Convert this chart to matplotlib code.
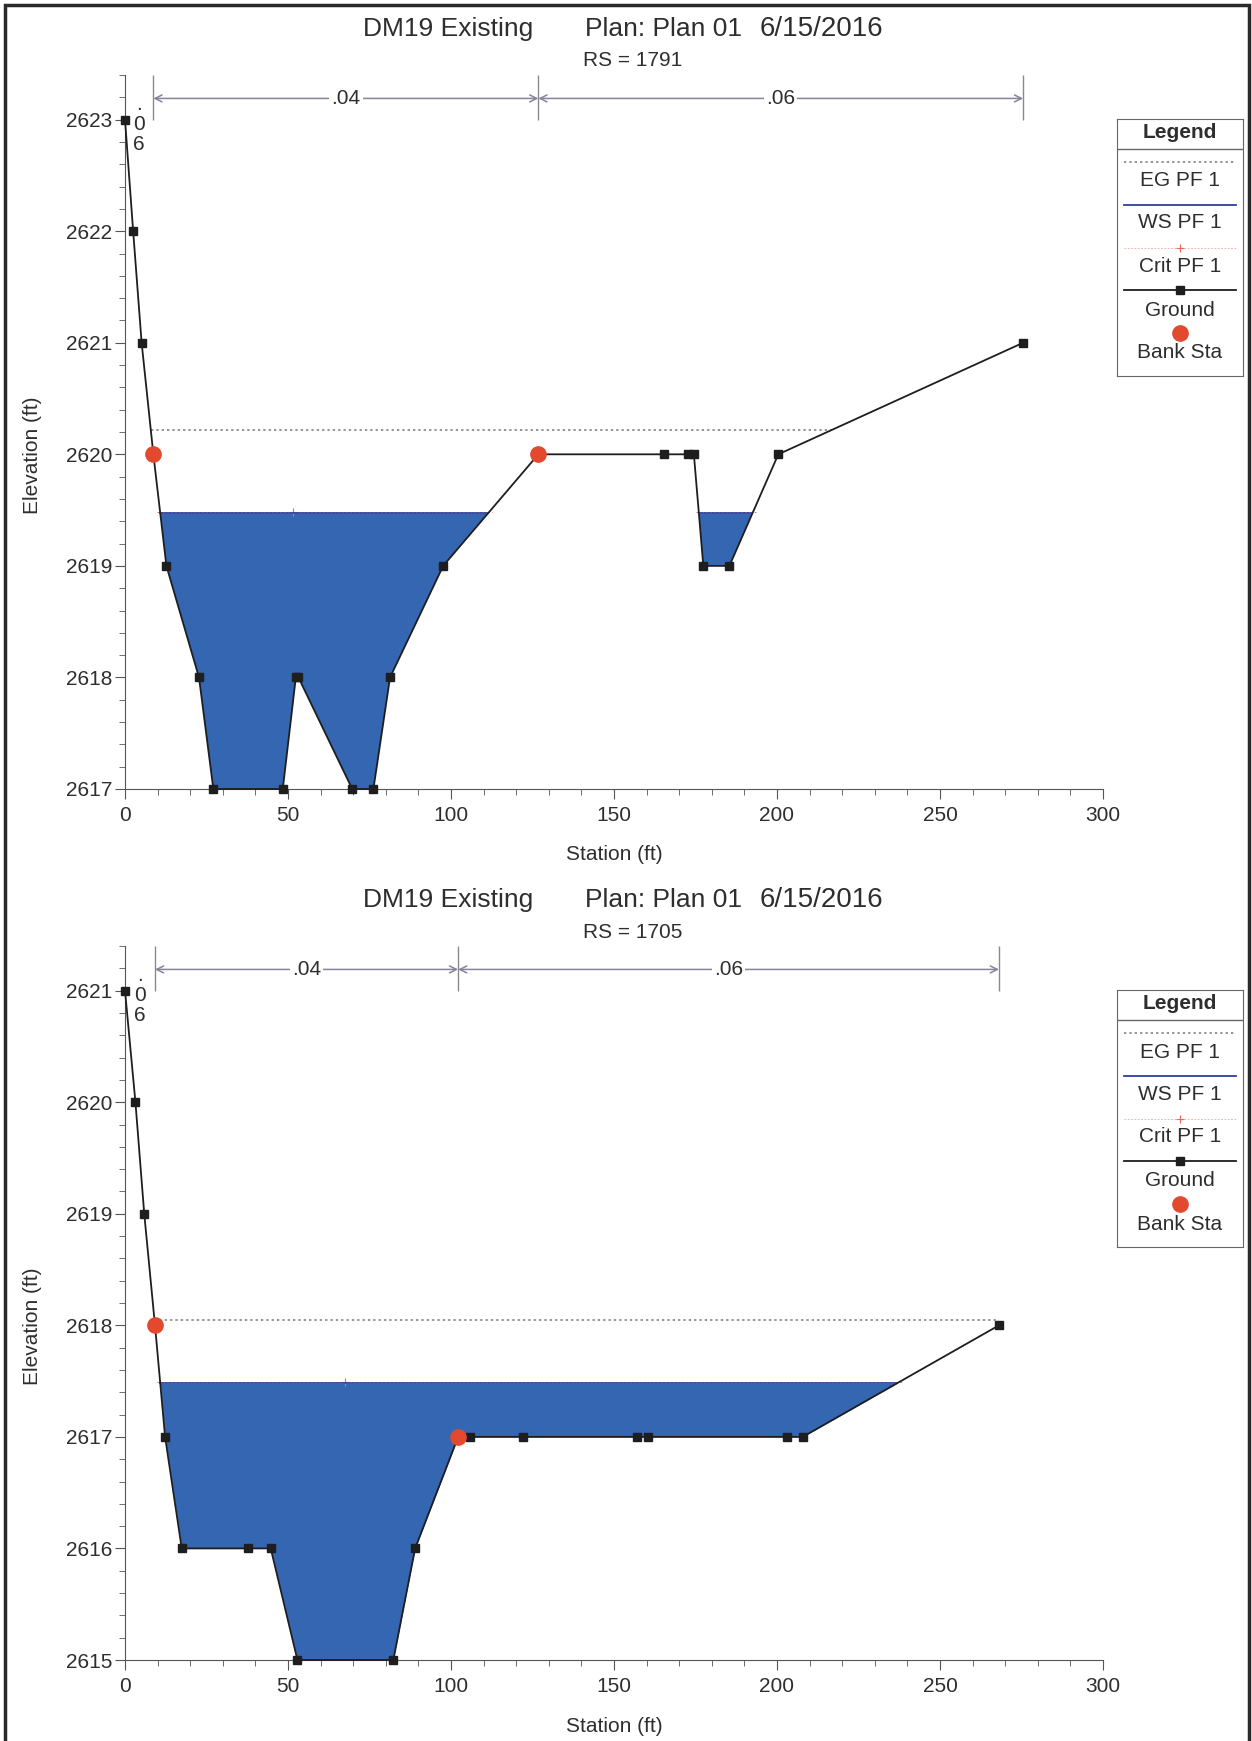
import numpy as np
import matplotlib
matplotlib.use('Agg')
import matplotlib.pyplot as plt
from matplotlib.ticker import MultipleLocator, FormatStrFormatter
from matplotlib.patches import Rectangle

plt.rcParams['font.family'] = ['Liberation Sans', 'DejaVu Sans']

# ---- data: RS = 1791 ----
sta_1791 = [0, 2.5, 5.1, 8.7, 12.7, 22.7, 27.1, 48.4, 52.4, 53.2, 69.7, 76.2,
            81.3, 97.6, 126.8, 165.3, 172.8, 174.5, 177.4, 185.4, 200.4, 275.5]
elev_1791 = [2623, 2622, 2621, 2620, 2619, 2618, 2617, 2617, 2618, 2618, 2617, 2617,
             2618, 2619, 2620, 2620, 2620, 2620, 2619, 2619, 2620, 2621]
bank_1791 = [8.7, 126.8]
ws_1791 = 2619.47
eg_1791 = 2620.22
crit_1791 = 2619.48
crit_sta_1791 = 51.5
n_breaks_1791 = [0, 8.7, 126.8, 275.5]
n_vals_1791 = ['.06', '.04', '.06']

# ---- data: RS = 1705 ----
sta_1705 = [0, 3.2, 5.9, 9.2, 12.3, 17.4, 37.8, 44.7, 52.9, 82.3, 89.0, 102.2,
            105.8, 122.2, 157.0, 160.5, 203.0, 207.9, 268.1]
elev_1705 = [2621, 2620, 2619, 2618, 2617, 2616, 2616, 2616, 2615, 2615, 2616, 2617,
             2617, 2617, 2617, 2617, 2617, 2617, 2618]
bank_1705 = [9.2, 102.2]
ws_1705 = 2617.48
eg_1705 = 2618.05
crit_1705 = 2617.49
crit_sta_1705 = 67.5
n_breaks_1705 = [0, 9.2, 102.2, 268.1]
n_vals_1705 = ['.06', '.04', '.06']

W, H = 1252, 1741
TXT = '#2e2e2e'
AX = '#555555'
FILL = '#3566b2'
WSC = '#2c3f9e'
EGC = '#777777'
CRC = '#ea6a5a'
GRC = '#1e1e1e'
BKC = '#e2492e'
NC = '#85849a'


def fx(px):
    return px / W


def fy(py):
    return 1 - py / H


def crossings(sta, elev, level):
    xs = []
    if elev[0] < level:
        xs.append(sta[0])
    for i in range(len(sta) - 1):
        a, b = elev[i] - level, elev[i + 1] - level
        if (a < 0) != (b < 0):
            t = a / (a - b)
            xs.append(sta[i] + t * (sta[i + 1] - sta[i]))
    if elev[-1] < level:
        xs.append(sta[-1])
    return xs


fig = plt.figure(figsize=(W / 100, H / 100), dpi=100)


def section(top_px, sta, elev, bank, ws, eg, crit, crit_sta, breaks, nvals, title_rs):
    sta = np.array(sta, float)
    elev = np.array(elev, float)
    bot_px = top_px + 714
    ymin, ymax = elev.min(), elev.max()
    ytop = ymax + 0.4
    ax = fig.add_axes([fx(125), fy(bot_px), fx(1103 - 125), 714 / H])
    ax.set_xlim(0, 300)
    ax.set_ylim(ymin, ytop)

    # water surface fill
    ax.fill_between(sta, elev, ws, where=elev < ws, interpolate=True,
                    color=FILL, lw=0, zorder=1)
    # critical ws
    c = crossings(sta, elev, crit)
    for x0, x1 in zip(c[0::2], c[1::2]):
        ax.plot([x0 - 1, x1 + 1], [crit, crit], color=CRC, lw=0.7, ls=(0, (2, 2)), zorder=2)
    ax.plot([crit_sta], [crit], marker='+', color=CRC, ms=6, mew=0.8, zorder=2)
    # water surface line
    c = crossings(sta, elev, ws)
    for x0, x1 in zip(c[0::2], c[1::2]):
        ax.plot([x0, x1], [ws, ws], color=WSC, lw=1.2, zorder=3)
    # energy grade
    c = crossings(sta, elev, eg)
    ax.plot([c[0], c[-1]], [eg, eg], color=EGC, lw=1.1, ls=(0, (1.5, 2)), zorder=3)
    # ground
    ax.plot(sta, elev, color=GRC, lw=1.3, marker='s', ms=6, mfc=GRC, mec=GRC,
            zorder=4, clip_on=False)
    # bank stations
    ax.plot(bank, np.interp(bank, sta, elev), 'o', color=BKC, ms=11, zorder=5, clip_on=False)

    # manning's n brackets
    ya = ymax + 0.19
    ax.vlines(breaks[1:], ymax, ytop, color='#8a8a8a', lw=1, zorder=2)
    for x0, x1, lab in zip(breaks[:-1], breaks[1:], nvals):
        if x1 - x0 > 20:
            ax.annotate('', xy=(x0, ya), xytext=(x1, ya),
                        arrowprops=dict(arrowstyle='<->,head_length=0.5,head_width=0.25',
                                        color=NC, lw=1.1, shrinkA=0, shrinkB=0))
            ax.text((x0 + x1) / 2, ya, lab, ha='center', va='center', fontsize=15,
                    color=TXT, bbox=dict(fc='white', ec='none', pad=1.5))
        else:
            for k, ch in enumerate(lab):
                ax.text((x0 + x1) / 2, ya - 0.1 - 0.18 * k, ch, ha='center',
                        va='baseline', fontsize=15, color=TXT)

    for s in ['top', 'right']:
        ax.spines[s].set_visible(False)
    for s in ['left', 'bottom']:
        ax.spines[s].set_color(AX)
    ax.xaxis.set_major_locator(MultipleLocator(50))
    ax.xaxis.set_minor_locator(MultipleLocator(10))
    ax.yaxis.set_minor_locator(MultipleLocator(0.2))
    ax.set_yticks(np.arange(ymin, ymax + 0.5, 1))
    ax.yaxis.set_major_formatter(FormatStrFormatter('%d'))
    ax.tick_params(which='major', length=7, color=AX, labelsize=15, labelcolor=TXT)
    ax.tick_params(which='minor', length=4, color=AX)
    ax.tick_params(axis='y', pad=2)
    ax.tick_params(axis='x', pad=5)

    # titles and labels
    fig.text(fx(533), fy(top_px - 46), 'DM19 Existing', ha='right', va='center',
             fontsize=19, color=TXT)
    fig.text(fx(585), fy(top_px - 46), 'Plan: Plan 01', ha='left', va='center',
             fontsize=19, color=TXT)
    fig.text(fx(760), fy(top_px - 46), '6/15/2016', ha='left', va='center',
             fontsize=20, color=TXT)
    fig.text(fx(633), fy(top_px - 14), title_rs, ha='center', va='center',
             fontsize=15, color=TXT)
    fig.text(fx(614), fy(bot_px + 66), 'Station (ft)', ha='center', va='center',
             fontsize=15, color=TXT)
    fig.text(fx(33), fy(top_px + 380), 'Elevation (ft)', ha='center', va='center',
             rotation=90, fontsize=15, color=TXT)
    return ax


def legend_box(top_px):
    left, right, h = 1117, 1243, 257
    w = right - left
    lax = fig.add_axes([fx(left), fy(top_px + h), w / W, h / H])
    lax.set_xlim(0, w)
    lax.set_ylim(h, 0)
    lax.set_xticks([])
    lax.set_yticks([])
    for s in lax.spines.values():
        s.set_color('#666666')
    cx = w / 2
    lax.text(cx, 14, 'Legend', ha='center', va='center', fontsize=15,
             weight='bold', color=TXT)
    lax.plot([0, w], [30, 30], color='#666666', lw=1)
    lax.plot([7, w - 7], [43, 43], color=EGC, lw=1.1, ls=(0, (1.5, 2)))
    lax.text(cx, 62, 'EG PF 1', ha='center', va='center', fontsize=15, color=TXT)
    lax.plot([7, w - 7], [86, 86], color=WSC, lw=1.3)
    lax.text(cx, 104, 'WS PF 1', ha='center', va='center', fontsize=15, color=TXT)
    lax.plot([7, w - 7], [129, 129], color=CRC, lw=0.6, ls=(0, (2, 2)), alpha=0.6)
    lax.plot([cx], [129], marker='+', color=CRC, ms=6, mew=0.8)
    lax.text(cx, 147, 'Crit PF 1', ha='center', va='center', fontsize=15, color=TXT)
    lax.plot([7, w - 7], [171, 171], color=GRC, lw=1.3)
    lax.plot([cx], [171], marker='s', color=GRC, ms=6)
    lax.text(cx, 191, 'Ground', ha='center', va='center', fontsize=15, color=TXT)
    lax.plot([cx], [214], marker='o', color=BKC, ms=11)
    lax.text(cx, 234, 'Bank Sta', ha='center', va='center', fontsize=15, color=TXT)


section(75, sta_1791, elev_1791, bank_1791, ws_1791, eg_1791, crit_1791,
        crit_sta_1791, n_breaks_1791, n_vals_1791, 'RS = 1791')
legend_box(119)
section(946, sta_1705, elev_1705, bank_1705, ws_1705, eg_1705, crit_1705,
        crit_sta_1705, n_breaks_1705, n_vals_1705, 'RS = 1705')
legend_box(990)

# page frame
fig.patches.append(Rectangle((fx(5), -0.01), fx(1244), fy(5) + 0.01,
                             transform=fig.transFigure, fill=False,
                             ec='#2a2a2a', lw=2.5))

fig.savefig('out.png', dpi=100)
